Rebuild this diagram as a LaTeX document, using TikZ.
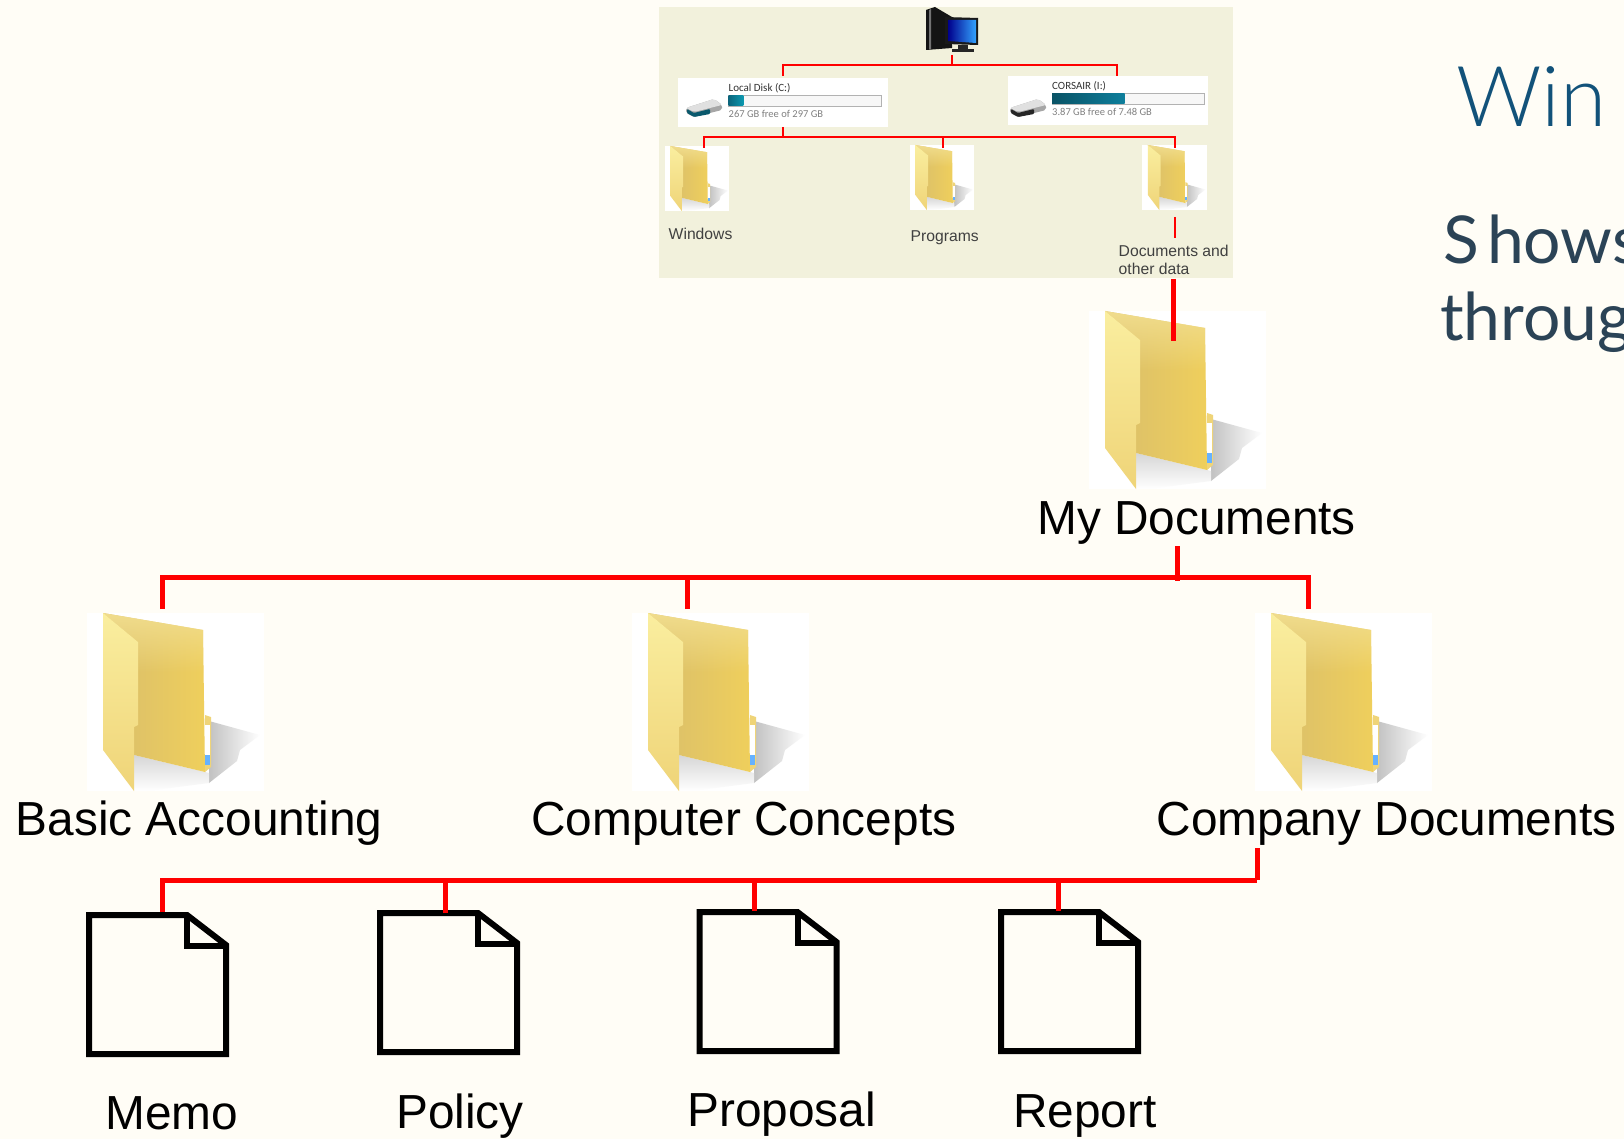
\documentclass[tikz,border=0pt]{standalone}
\usetikzlibrary{fadings}
\usepackage{fontspec}
\setmainfont{Liberation Sans}
\newfontfamily\diskfont{Carlito}
\newfontfamily\titlefont{Lato Light}
\newfontfamily\bodyfont{Lato}
\definecolor{pagebg}{HTML}{FFFDF6}
\definecolor{insetbg}{HTML}{F2F1DC}
\definecolor{linkred}{HTML}{FF0000}
\definecolor{barteal}{HTML}{0E7F9C}
\definecolor{titleblue}{HTML}{12527A}
\definecolor{bodyslate}{HTML}{2B4356}
\definecolor{folderdark}{HTML}{D8BD6C}
\definecolor{foldermid}{HTML}{F1DD8D}
\definecolor{folderwarm}{HTML}{EFCF5C}
\definecolor{flaplight}{HTML}{FAEE9F}
\definecolor{flapdark}{HTML}{EFD478}
\begin{document}
\begin{tikzpicture}[x=1pt,y=-1pt,
    link/.style = {draw=linkred,line width=5pt},
    thinlink/.style = {draw=linkred,line width=1.8pt},
    biglabel/.style = {anchor=base west,inner sep=0pt,
        font=\fontsize{47.8}{52}\selectfont},
    doclabel/.style = {anchor=base west,inner sep=0pt,
        font=\fontsize{47.8}{50}\selectfont},
    smalllabel/.style = {anchor=west,inner sep=0pt,text=black!75,
        font=\fontsize{15.7}{18.7}\selectfont},
    disklabel/.style = {anchor=west,inner sep=0pt,text=black!80,
        font=\diskfont\fontsize{11}{12}\selectfont},
    diskfree/.style = {anchor=west,inner sep=0pt,text=black!50,
        font=\diskfont\fontsize{10.5}{12}\selectfont},
    whitebox/.style = {fill=white,draw=none,inner sep=0pt},
    foldericon/.pic = {
        \fill[white] (0,0) rectangle (177,178);
        % shadow
        \shade[left color=black!24,right color=white]
            (122,108) -- (173,122) -- (153,137) -- (150,148) -- (122,170) -- cycle;
        \shade[top color=black!16,bottom color=white]
            (47,142) -- (122,160) -- (122,170) -- (60,178) -- (47,178) -- cycle;
        % back
        \shade[left color=folderdark,middle color=foldermid,right color=folderwarm]
            (16,0) -- (116,17) -- (118,159) -- (47,142) -- cycle;
        \fill[foldermid,path fading=south] (16,0) -- (116,17) -- (116,60) -- (51,60) -- (51,29) -- cycle;
        % tab
        \fill[flapdark] (118,102) -- (124,104) -- (124,154) -- (118,159) -- cycle;
        \fill[white] (118,112) rectangle (123,142);
        \fill[blue!50!cyan!60!white] (118,142) rectangle (123,152);
        % flap
        \shade[top color=flaplight,bottom color=flapdark]
            (16,0) -- (51,29) -- (51,112) -- (47,114) -- (47,178) -- (16,137) -- cycle;
    },
    pageicon/.pic = {
        \draw[line width=6pt,miter limit=10]
            (0,0) -- (98,0) -- (137,30) -- (137,139) -- (0,139) -- cycle;
        \draw[line width=6pt] (98,0) -- (98,31) -- (137,31);
    },
    pcicon/.pic = {
        \fill[black!92] (0,3) -- (9,0) -- (26,10) -- (26,41) -- (0,43) -- cycle;
        \fill[black!55] (3,3) -- (5,2) -- (5,42) -- (3,42) -- cycle;
        \fill[black!90] (19,10) -- (52,11) -- (52,38) -- (19,37) -- cycle;
        \shade[left color=blue!55!black,right color=cyan!55!blue!80!white] (22,13) -- (50,13) -- (50,36) -- (22,34) -- cycle;
        \fill[black!85] (32,38) rectangle (42,42);
        \fill[black!85] (26,42) rectangle (48,45);
    },
    pics/driveicon/.style = {code={
        \fill[black!35,rounded corners=2pt] (0,9) -- (28,0) -- (36,6) -- (36,11) -- (8,18) -- (0,14) -- cycle;
        \fill[black!12,rounded corners=2pt] (0,9) -- (28,0) -- (36,6) -- (8,13) -- cycle;
        \fill[#1,rounded corners=1pt] (1,10) -- (8,14) -- (24,10) -- (24,15) -- (8,18) -- (1,14) -- cycle;
    }},
    ]

% Page and bounding box
\useasboundingbox (0,0) rectangle (1624,1139);
\fill[pagebg] (0,0) rectangle (1624,1139);

% Inset panel
\fill[insetbg] (659,7) rectangle (1233,278);
\pic at (926,7) {pcicon};

% Drive C
\node[whitebox,minimum width=210.5pt,minimum height=49pt] (cdisk) at (782.75,102.5) {};
\pic at (686,99) {driveicon=barteal!70!black};
\node[disklabel] (cname) at (728.5,88) {Local Disk (C:)};
\draw[black!30,fill=black!3] (728.5,95.7) rectangle (881,106);
\shade[left color=barteal!80!black,right color=barteal!80!cyan] (728.5,95.7) rectangle (743.4,106);
\node[diskfree] (cfree) at (728.5,114) {267 GB free of 297 GB};

% Drive I
\node[whitebox,minimum width=200pt,minimum height=49pt] (idisk) at (1108,100.5) {};
\pic at (1010,99) {driveicon=black!85};
\node[disklabel] (iname) at (1052,86) {CORSAIR (I:)};
\draw[black!30,fill=black!3] (1052,93.7) rectangle (1204,104);
\shade[left color=barteal!65!black,right color=barteal] (1052,93.7) rectangle (1124.5,104);
\node[diskfree] (ifree) at (1052,112.3) {3.87 GB free of 7.48 GB};

% Small folders
\pic[xscale=.367,yscale=.365] at (664.5,146) {foldericon};
\pic[xscale=.367,yscale=.365] at (909.5,145) {foldericon};
\pic[xscale=.367,yscale=.365] at (1142,145) {foldericon};
\node[smalllabel] (windows) at (668.5,233.5) {Windows};
\node[smalllabel] (programs) at (910.5,238) {Programs};
\node[smalllabel,align=left] (otherdata) at (1118.5,260) {Documents and\\other data};

% Big folders
\pic at (1089,311) {foldericon};
\pic at (87,613) {foldericon};
\pic at (632,613) {foldericon};
\pic at (1255,613) {foldericon};
\node[biglabel] (mydocs) at (1037,534) {My Documents};
\node[biglabel] (basic) at (15.5,835) {Basic Accounting};
\node[biglabel] (concepts) at (531,835) {Computer Concepts};
\node[biglabel] (company) at (1156.5,835) {Company Documents};

% Documents
\pic at (89,915) {pageicon};
\pic at (380,913) {pageicon};
\pic at (699.5,912) {pageicon};
\pic at (1001,912) {pageicon};
\node[doclabel] (memo) at (105,1129) {Memo};
\node[doclabel] (policy) at (396,1128) {Policy};
\node[doclabel] (proposal) at (687,1126) {Proposal};
\node[doclabel] (report) at (1013,1127) {Report};

% Link ends
\coordinate (pcstem) at (951.6,55);
\coordinate (pcbus) at (951.6,65);
\coordinate (cdrop) at (783,76);
\coordinate (idrop) at (1117,76);
\coordinate (cstem) at (783,127);
\coordinate (cbus) at (783,137);
\coordinate (windrop) at (703.6,148);
\coordinate (progdrop) at (943,148);
\coordinate (datadrop) at (1175,148);
\coordinate (tickup) at (1174.7,217);
\coordinate (tickdown) at (1174.7,238);
\coordinate (mainup) at (1173,279);
\coordinate (maindown) at (1173,341);
\coordinate (mystem) at (1177,546);
\coordinate (mybus) at (1177,577);
\coordinate (mybusend) at (1177,581);
\coordinate (basicdrop) at (162,609);
\coordinate (conceptdrop) at (687.5,609);
\coordinate (companydrop) at (1308.5,609);
\coordinate (compstem) at (1257,848);
\coordinate (compbus) at (1257,880);
\coordinate (memodrop) at (162,912);
\coordinate (policydrop) at (445,913);
\coordinate (proposaldrop) at (754,911);
\coordinate (reportdrop) at (1058,911);

% Inset links
\draw[thinlink] (pcstem) -- (pcbus);
\draw[thinlink] (cdrop) |- (pcbus);
\draw[thinlink] (idrop) |- (pcbus);
\draw[thinlink] (cstem) -- (cbus);
\draw[thinlink] (windrop) |- (cbus);
\draw[thinlink] (progdrop) |- (cbus);
\draw[thinlink] (datadrop) |- (cbus);
\draw[thinlink] (tickup) -- (tickdown);

% Main links
\draw[link] (mainup) -- (maindown);
\draw[link] (mystem) -- (mybusend);
\draw[link] (basicdrop) |- (mybus);
\draw[link] (conceptdrop) |- (mybus);
\draw[link] (companydrop) |- (mybus);
\draw[link] (compstem) -- (compbus);
\draw[link] (memodrop) |- (compbus);
\draw[link] (policydrop) |- (compbus);
\draw[link] (proposaldrop) |- (compbus);
\draw[link] (reportdrop) |- (compbus);

% Side text
\node[anchor=base west,inner sep=0pt,text=titleblue,font=\titlefont\fontsize{84}{90}\selectfont] (title) at (1456,127) {Win};
\node[anchor=base west,inner sep=0pt,text=bodyslate,font=\bodyfont\fontsize{66}{74}\selectfont] (shows) at (1443,264) {S\kern8pt hows};
\node[anchor=base west,inner sep=0pt,text=bodyslate,font=\bodyfont\fontsize{66}{74}\selectfont] (through) at (1440,341) {through};
\end{tikzpicture}
\end{document}
